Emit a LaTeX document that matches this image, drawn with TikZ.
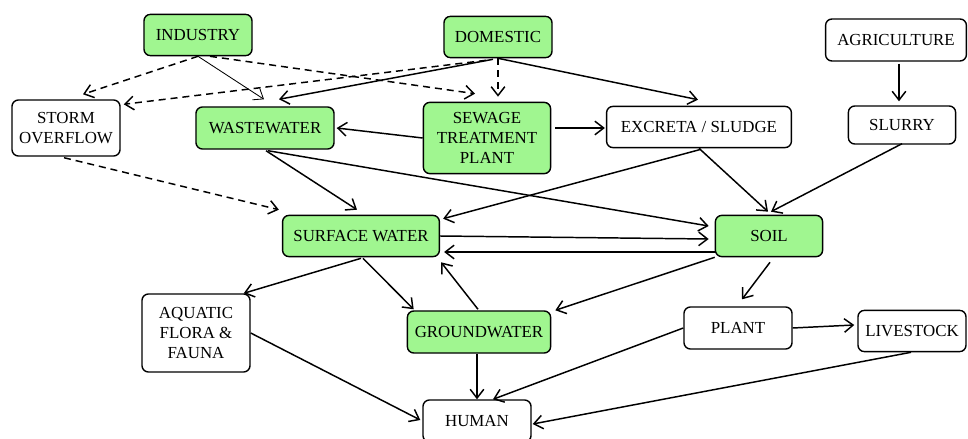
\documentclass[tikz,border=0pt]{standalone}
\usepackage{fontspec}
\setmainfont{Liberation Serif}
\usepackage{tikz}
\usetikzlibrary{arrows.meta,calc}
\definecolor{leaf}{RGB}{160,246,144}

\begin{document}
\begin{tikzpicture}[x=0.025cm, y=-0.025cm,
  every node/.style={draw, rounded corners=0.16cm, line width=1pt, align=center, inner sep=0pt, font=\fontsize{12}{14}\selectfont},
  wet/.style={fill=leaf},
  flow/.style={line width=1.05pt, -{Straight Barb[length=2.2mm, width=3.4mm]}},
  leak/.style={flow, dash pattern=on 5pt off 3.5pt}]
  \useasboundingbox (0,0) rectangle (968,439);
  \node [wet, minimum width=2.7cm, minimum height=1.03cm] (industry) at (198,35) {INDUSTRY};
  \node [wet, minimum width=2.7cm, minimum height=1.03cm] (domestic) at (498,37) {DOMESTIC};
  \node [minimum width=3.52cm, minimum height=1.05cm] (agri) at (896,40) {AGRICULTURE};
  \node [minimum width=2.7cm, minimum height=1.4cm] (storm) at (66,128) {STORM\\OVERFLOW};
  \node [wet, minimum width=3.45cm, minimum height=1.05cm] (wastewater) at (265,128) {WASTEWATER};
  \node [wet, minimum width=3.18cm, minimum height=1.78cm] (sewage) at (487,138) {SEWAGE\\TREATMENT\\PLANT};
  \node [minimum width=4.62cm, minimum height=1.03cm] (excreta) at (699,127) {EXCRETA / SLUDGE};
  \node [minimum width=2.68cm, minimum height=0.95cm] (slurry) at (902,125) {SLURRY};
  \node [wet, minimum width=3.92cm, minimum height=1.03cm] (surface) at (361,236) {SURFACE WATER};
  \node [wet, minimum width=2.68cm, minimum height=1.03cm] (soil) at (769,236) {SOIL};
  \node [minimum width=2.7cm, minimum height=1.95cm] (aquatic) at (196,333) {AQUATIC\\FLORA \&\\FAUNA};
  \node [wet, minimum width=3.58cm, minimum height=1.05cm] (groundwater) at (479,332) {GROUNDWATER};
  \node [minimum width=2.7cm, minimum height=1.05cm] (plant) at (738,328) {PLANT};
  \node [minimum width=2.7cm, minimum height=1.03cm] (livestock) at (912,331) {LIVESTOCK};
  \node [minimum width=2.7cm, minimum height=1.05cm] (human) at (477,421) {HUMAN};
  \draw [leak] (industry.south) -- ($(storm.north)+(17,-5)$);
  \draw [flow, line width=0.6pt] (industry.south) -- ($(wastewater.north)+(-1,-7)$);
  \draw [leak] ($(industry.south)+(12,0)$) -- ($(sewage.north)+(-12,-8)$);
  \draw [leak] ($(domestic.south)+(-12,2)$) -- ($(storm.north east)+(3,5)$);
  \draw [flow] ($(domestic.south)+(-5,1)$) -- ($(wastewater.north)+(14,-7)$);
  \draw [leak] (domestic.south) -- ($(sewage.north)+(11,-5)$);
  \draw [flow] (domestic.south) -- ($(excreta.north)+(-1,-6)$);
  \draw [flow] (sewage.west) -- ($(wastewater.east)+(2,0)$);
  \draw [flow] ($(sewage.east)+(4,-10)$) -- ($(excreta.west)+(-1,1)$);
  \draw [leak] ($(storm.south)+(-2,1)$) -- ($(surface.north west)+(-3,-5)$);
  \draw [flow] ($(wastewater.south)+(1,1)$) -- ($(surface.north)+(-4,-5)$);
  \draw [flow] ($(wastewater.south)+(3,1)$) -- ($(soil.west)+(-6,-10)$);
  \draw [flow] ($(excreta.south)+(2,1)$) -- ($(surface.north east)+(3,4)$);
  \draw [flow] (excreta.south) -- ($(soil.north)+(-1,-3)$);
  \draw [flow] ($(slurry.south)+(0,-1)$) -- ($(soil.north)+(2,-3)$);
  \draw [flow] ($(agri.south)+(3,2)$) -- ($(slurry.north)+(-3,-4)$);
  \draw [flow] (surface.east) -- ($(soil.west)+(-6,3)$);
  \draw [flow] ($(soil.west)+(0,16)$) -- ($(surface.east)+(4,16)$);
  \draw [flow] ($(surface.south)+(0,1)$) -- ($(aquatic.north east)+(-7,0)$);
  \draw [flow] ($(surface.south)+(2,1)$) -- ($(groundwater.north west)+(7,-1)$);
  \draw [flow] ($(groundwater.north)+(-1,-1)$) -- ($(surface.south east)+(1,5)$);
  \draw [flow] (soil.south west) -- ($(groundwater.north east)+(4,0)$);
  \draw [flow] ($(soil.south)+(1,5)$) -- ($(plant.north)+(4,-7)$);
  \draw [flow] (plant.east) -- ($(livestock.west)+(-3,-6)$);
  \draw [flow] (plant.west) -- ($(human.north)+(16,0)$);
  \draw [flow] ($(livestock.south)+(-1,0)$) -- ($(human.east)+(1,3)$);
  \draw [flow] (aquatic.east) -- ($(human.west)+(-2,-1)$);
  \draw [flow] ($(groundwater.south)+(-2,0)$) -- (human.north);
\end{tikzpicture}
\end{document}
